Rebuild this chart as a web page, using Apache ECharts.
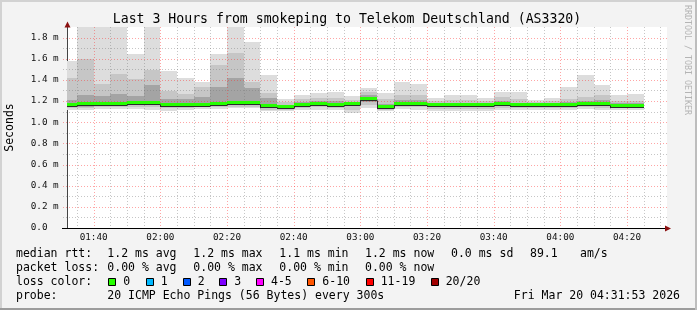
<!DOCTYPE html>
<html><head><meta charset="utf-8">
<script src="https://cdn.jsdelivr.net/npm/echarts@6/dist/echarts.min.js"></script>
<style>html,body{margin:0;padding:0;background:#f3f3f3}#c{width:697px;height:310px}</style>
</head><body><div id="c"></div>
<script>
// ---- data ----
const slotEnds = ["01:35","01:40","01:45","01:50","01:55","02:00","02:05","02:10","02:15","02:20","02:25","02:30","02:35","02:40","02:45","02:50","02:55","03:00","03:05","03:10","03:15","03:20","03:25","03:30","03:35","03:40","03:45","03:50","03:55","04:00","04:05","04:10","04:15","04:20","04:25"];
const slotMinutes = 5;
const maxV   = [1.578,1.95,1.95,1.95,1.642,1.95,1.48,1.42,1.38,1.642,1.95,1.758,1.443,1.223,1.26,1.274,1.286,1.245,1.32,1.28,1.377,1.36,1.23,1.26,1.26,1.233,1.286,1.286,1.21,1.233,1.337,1.443,1.349,1.255,1.264];
const upper2 = [1.42,1.60,1.36,1.46,1.405,1.49,1.295,1.264,1.337,1.54,1.651,1.38,1.276,1.19,1.22,1.23,1.23,1.21,1.29,1.22,1.26,1.26,1.20,1.21,1.21,1.20,1.24,1.22,1.19,1.20,1.22,1.24,1.26,1.20,1.20];
const upper3 = [1.21,1.26,1.25,1.27,1.25,1.35,1.22,1.22,1.24,1.33,1.415,1.32,1.23,1.165,1.19,1.20,1.20,1.19,1.26,1.17,1.21,1.21,1.18,1.185,1.185,1.18,1.20,1.18,1.175,1.18,1.19,1.20,1.21,1.18,1.18];
const median = [1.16,1.17,1.176,1.176,1.185,1.185,1.167,1.167,1.167,1.176,1.18,1.18,1.155,1.142,1.16,1.175,1.16,1.176,1.219,1.148,1.176,1.176,1.162,1.165,1.165,1.16,1.17,1.158,1.158,1.163,1.167,1.17,1.17,1.155,1.155];
const lower3 = [1.14,1.145,1.15,1.15,1.16,1.16,1.15,1.15,1.15,1.155,1.16,1.16,1.135,1.125,1.14,1.155,1.14,1.15,1.19,1.13,1.15,1.15,1.14,1.145,1.145,1.14,1.15,1.14,1.14,1.145,1.15,1.15,1.15,1.14,1.14];
const lower2 = [1.13,1.13,1.14,1.14,1.14,1.14,1.13,1.135,1.14,1.14,1.145,1.145,1.12,1.115,1.13,1.14,1.13,1.12,1.16,1.12,1.14,1.14,1.125,1.125,1.125,1.125,1.135,1.13,1.13,1.13,1.135,1.14,1.135,1.13,1.13];
const minV   = [1.12,1.115,1.125,1.125,1.125,1.12,1.11,1.12,1.125,1.125,1.13,1.13,1.11,1.104,1.115,1.12,1.12,1.088,1.135,1.11,1.125,1.12,1.105,1.105,1.105,1.11,1.12,1.115,1.12,1.12,1.12,1.125,1.12,1.12,1.12];
const xTickLabels = ["01:40","02:00","02:20","02:40","03:00","03:20","03:40","04:00","04:20"];
const xStart = "01:32", xEnd = "04:32";
const yTicks = [0,0.2,0.4,0.6,0.8,1.0,1.2,1.4,1.6,1.8];
const yMax = 1.9;
const titleText = "Last 3 Hours from smokeping to Telekom Deutschland (AS3320)";
const rttStats = ["1.2 ms avg","1.2 ms max","1.1 ms min","1.2 ms now","0.0 ms sd","89.1","am/s"];
const lossStats = ["0.00 % avg","0.00 % max","0.00 % min","0.00 % now"];
const lossLabels = ["0","1","2","3","4-5","6-10","11-19","20/20"];
const lossColors = ["#26ff00","#00b8ff","#0059ff","#7e00ff","#ff00ff","#ff5500","#ff0000","#a10000"];
const probeText = "20 ICMP Echo Pings (56 Bytes) every 300s";
const dateText = "Fri Mar 20 04:31:53 2026";

// ---- helpers ----
const toMin = s => { const p = s.split(':').map(Number); return p[0]*60 + p[1]; };
const fmt = v => String(Math.floor(v/60)).padStart(2,'0') + ':' + String(v%60).padStart(2,'0');
const FONT = '"DejaVu Sans Mono", monospace';
const smokeColors = ['#dddddd','#c6c6c6','#a4a4a4'];

const smokeData = [];
slotEnds.forEach((s,i) => {
  const e = toMin(s), b = e - slotMinutes;
  smokeData.push([b, e, minV[i], maxV[i], 0]);
  smokeData.push([b, e, lower2[i], upper2[i], 1]);
  smokeData.push([b, e, lower3[i], upper3[i], 2]);
});
const medData = slotEnds.map((s,i) => [toMin(s)-slotMinutes, toMin(s), median[i], i>0 ? median[i-1] : median[i]]);

const xMin = toMin(xStart), xMax = toMin(xEnd);
const gridLines = [];
for (let m = Math.ceil(xMin/5)*5; m < xMax; m += 5) gridLines.push([m, 0, m % 20 === 0 ? 1 : 0]);
for (let k = 1; k <= 18; k++) gridLines.push([k/10, 1, k % 2 === 0 ? 1 : 0]);

const G = {left: 67, top: 27, width: 600, height: 201};

const chart = echarts.init(document.getElementById('c'), null, {renderer: 'canvas'});

const graphics = [];
// frame
graphics.push({type:'rect', shape:{x:0,y:0,width:697,height:2}, style:{fill:'#d2d2d2'}, silent:true});
graphics.push({type:'rect', shape:{x:0,y:0,width:2,height:310}, style:{fill:'#d2d2d2'}, silent:true});
graphics.push({type:'rect', shape:{x:0,y:308,width:697,height:2}, style:{fill:'#9c9c9c'}, silent:true});
graphics.push({type:'rect', shape:{x:695,y:0,width:2,height:310}, style:{fill:'#bdbdbd'}, silent:true});
// title
graphics.push({type:'text', x:347, y:19.5, style:{text:titleText, font:'13.2px '+FONT, fill:'#000', textAlign:'center', textVerticalAlign:'middle'}});
// y axis name
graphics.push({type:'text', x:10.5, y:127.5, rotation:Math.PI/2, style:{text:'Seconds', font:'11.5px '+FONT, fill:'#000', textAlign:'center', textVerticalAlign:'middle'}});
// watermark
graphics.push({type:'text', x:687.5, y:60, rotation:-Math.PI/2, style:{text:'RRDTOOL / TOBI OETIKER', font:'8.3px '+FONT, fill:'#b4b4b4', textAlign:'center', textVerticalAlign:'middle'}});
// arrows
graphics.push({type:'polygon', shape:{points:[[671,228.5],[665,225.5],[665,231.5]]}, style:{fill:'#8b1010'}, z:10});
graphics.push({type:'polygon', shape:{points:[[67.5,21.5],[64.5,27.5],[70.5,27.5]]}, style:{fill:'#8b1010'}, z:10});
graphics.push({type:'line', shape:{x1:62,y1:228.5,x2:67,y2:228.5}, style:{stroke:'#000', lineWidth:1}, z:10});
// legend
const txt = (t,x,y) => graphics.push({type:'text', x:x, y:y, style:{text:t, font:'11.5px '+FONT, fill:'#000', textAlign:'left', textVerticalAlign:'middle'}});
const rowY = [254.5, 268, 282.3, 296.3];
txt('median rtt:', 16, rowY[0]);
const rttX = [107.3,193.3,279.3,365,451,530,580];
rttStats.forEach((t,i) => txt(t, rttX[i], rowY[0]));
txt('packet loss:', 16, rowY[1]);
lossStats.forEach((t,i) => txt(t, rttX[i], rowY[1]));
txt('loss color:', 16, rowY[2]);
const boxX = [108.3,145.7,182.7,219.3,256,307.3,365.7,430.7];
lossLabels.forEach((t,i) => {
  graphics.push({type:'rect', shape:{x:Math.round(boxX[i])+0.5, y:278.5, width:7, height:7}, style:{fill:lossColors[i], stroke:'#000', lineWidth:1}});
  txt(t, boxX[i]+15, rowY[2]);
});
txt('probe:', 16, rowY[3]);
txt(probeText, 107.3, rowY[3]);
graphics.push({type:'text', x:680, y:rowY[3], style:{text:dateText, font:'11.5px '+FONT, fill:'#000', textAlign:'right', textVerticalAlign:'middle'}});

chart.setOption({
  backgroundColor: '#f3f3f3',
  animation: false,
  grid: {left: G.left, top: G.top, width: G.width, height: G.height, show: true, backgroundColor: '#ffffff', borderWidth: 0},
  xAxis: {
    type: 'value', min: xMin, max: xMax,
    axisLine: {show: true, lineStyle: {color: '#000', width: 1}},
    axisTick: {show: false},
    splitLine: {show: false},
    axisLabel: {customValues: xTickLabels.map(toMin), formatter: v => fmt(v), fontFamily: FONT, fontSize: 9.3, color: '#111', margin: 5, lineHeight: 10}
  },
  yAxis: {
    type: 'value', min: 0, max: yMax, interval: 0.2,
    axisLine: {show: true, onZero: false, lineStyle: {color: '#444', width: 1}},
    axisTick: {show: false},
    splitLine: {show: false},
    axisLabel: {customValues: yTicks, formatter: v => v === 0 ? '0.0' : v.toFixed(1) + ' m', fontFamily: FONT, fontSize: 9.3, color: '#111', align: 'left', margin: 36.3}
  },
  graphic: graphics,
  series: [
    {
      type: 'custom', name: 'smoke', clip: true, z: 1,
      data: smokeData,
      encode: {x: [0,1], y: [2,3]},
      renderItem: (params, api) => {
        const p0 = api.coord([api.value(0), api.value(3)]);
        const p1 = api.coord([api.value(1), api.value(2)]);
        const x0 = Math.round(p0[0]), x1 = Math.round(p1[0]);
        const y0 = Math.round(p0[1]), y1 = Math.round(p1[1]);
        return {type: 'rect', shape: {x: x0, y: y0, width: x1 - x0, height: y1 - y0}, style: {fill: smokeColors[api.value(4)]}};
      }
    },
    {
      type: 'custom', name: 'grid', clip: false, z: 2, silent: true,
      data: gridLines,
      renderItem: (params, api) => {
        const cs = params.coordSys;
        const major = api.value(2) === 1;
        const color = major ? 'rgba(255,40,40,0.42)' : 'rgba(120,120,120,0.42)';
        if (api.value(1) === 0) {
          const x = Math.round(api.coord([api.value(0), 0])[0]) + 0.5;
          return {type: 'line', shape: {x1: x, y1: cs.y, x2: x, y2: cs.y + cs.height}, style: {stroke: color, lineWidth: 1, lineDash: [1,2]}};
        }
        const y = Math.round(api.coord([xMin, api.value(0)])[1]) + 0.5;
        return {type: 'line', shape: {x1: cs.x - 4, y1: y, x2: cs.x + cs.width + 1, y2: y}, style: {stroke: color, lineWidth: 1, lineDash: [1,2]}};
      }
    },
    {
      type: 'custom', name: 'median', clip: true, z: 3,
      data: medData,
      encode: {x: [0,1], y: 2},
      renderItem: (params, api) => {
        const x0 = Math.round(api.coord([api.value(0), 0])[0]);
        const x1 = Math.round(api.coord([api.value(1), 0])[0]);
        const y = Math.round(api.coord([xMin, api.value(2)])[1]);
        const yp = Math.round(api.coord([xMin, api.value(3)])[1]);
        return {type: 'group', children: [
          {type: 'rect', shape: {x: x0, y: y - 2, width: x1 - x0, height: 3}, style: {fill: '#26ff00'}},
          {type: 'line', shape: {x1: x0, y1: y + 1.5, x2: x1, y2: y + 1.5}, style: {stroke: '#2a2a2a', lineWidth: 1}},
          {type: 'line', shape: {x1: x0 + 0.5, y1: yp + 1.5, x2: x0 + 0.5, y2: y + 1.5}, style: {stroke: '#2a2a2a', lineWidth: 1}}
        ]};
      }
    }
  ]
});
</script></body></html>
